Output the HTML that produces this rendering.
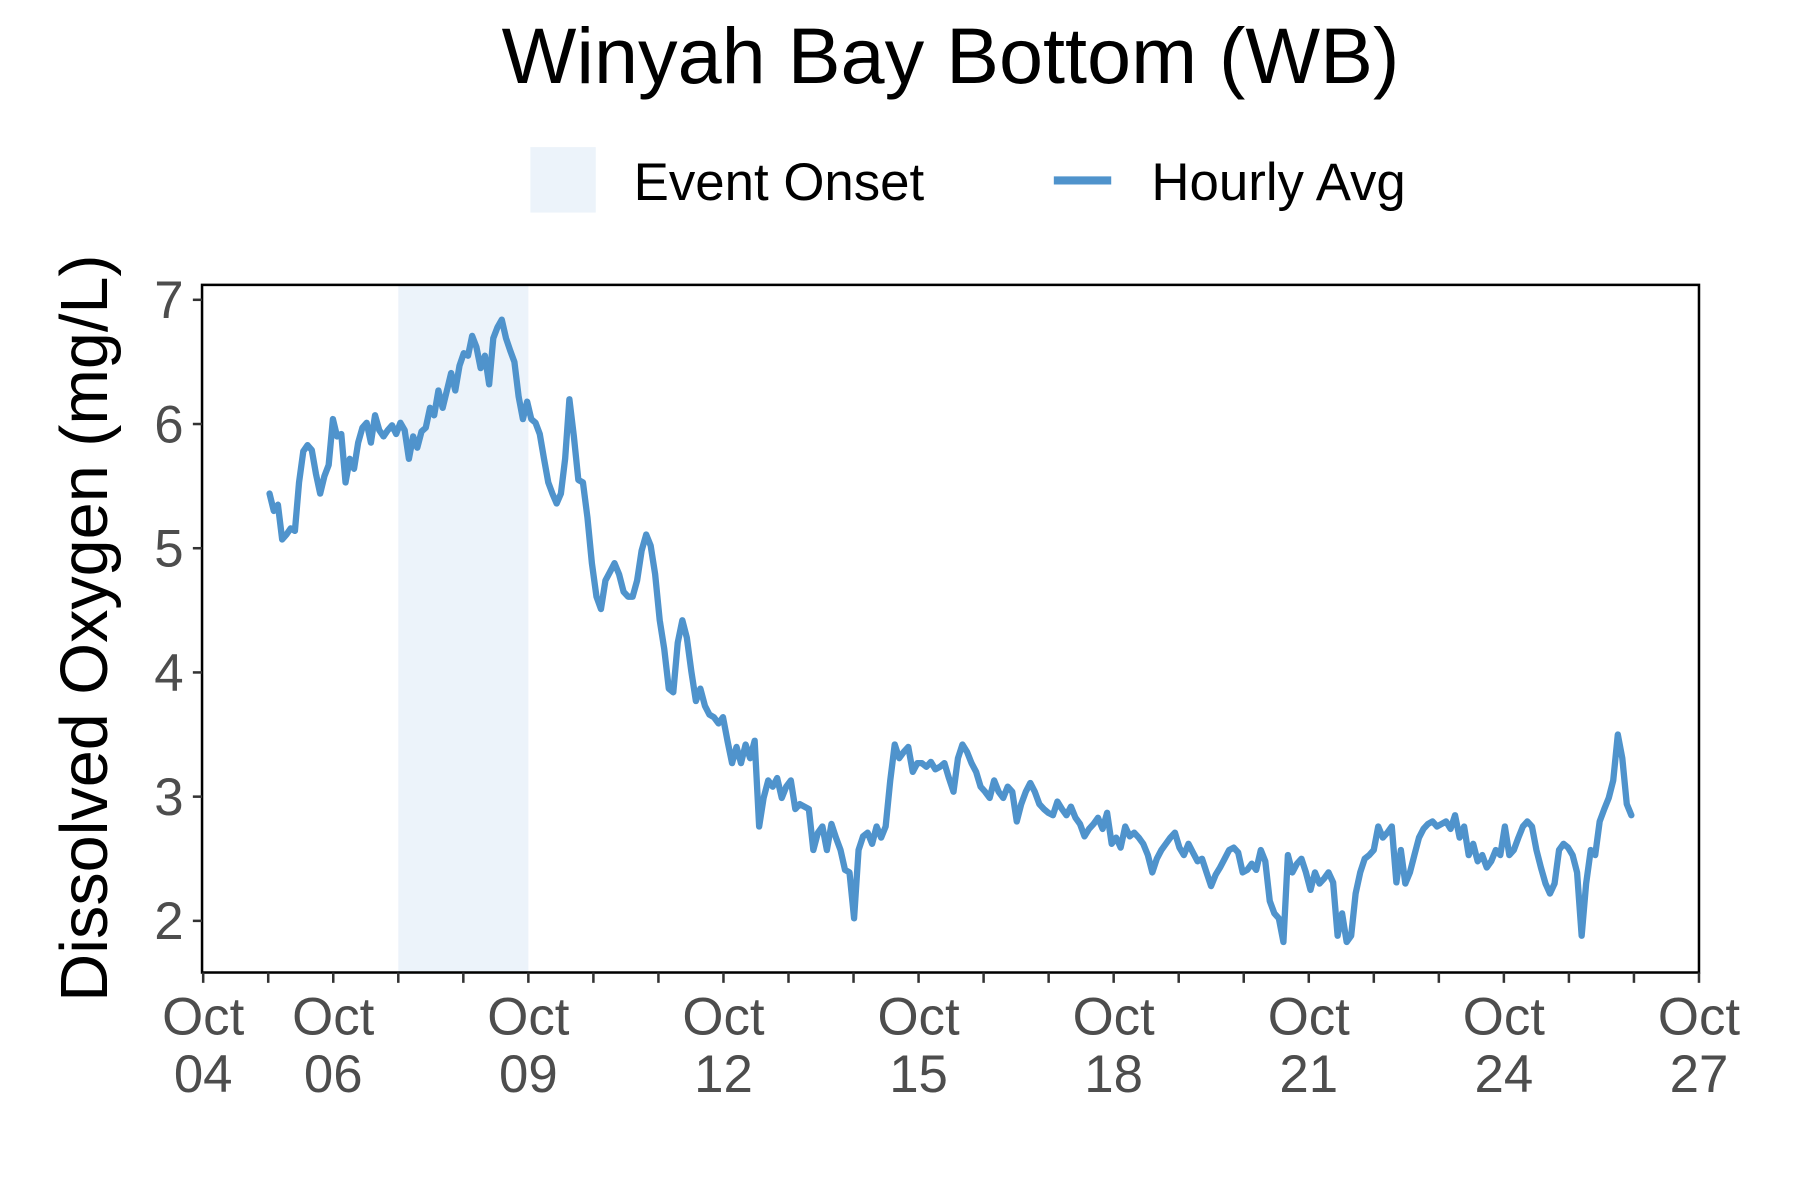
<!DOCTYPE html>
<html><head><meta charset="utf-8"><style>
html,body{margin:0;padding:0;background:#fff;}
svg{display:block;font-family:"Liberation Sans",sans-serif;}
</style></head><body>
<svg id="chart" width="1800" height="1200" viewBox="0 0 1568 1045" xmlns="http://www.w3.org/2000/svg">
<rect width="1568" height="1045" fill="#fff"/>
<text x="828" y="72" font-size="69" text-anchor="middle" fill="#000">Winyah Bay Bottom (WB)</text>
<g>
<rect x="462" y="128" width="57" height="57" fill="#ecf3fa"/>
<text x="552" y="174" font-size="46" fill="#000">Event Onset</text>
<line x1="918" y1="157" x2="968" y2="157" stroke="#4f93cc" stroke-width="7"/>
<text x="1003" y="174" font-size="46" fill="#000">Hourly Avg</text>
</g>
<text transform="translate(93,547) rotate(-90)" font-size="58" text-anchor="middle" fill="#000">Dissolved Oxygen (mg/L)</text>
<g id="plot"></g>
</svg>
<script>
const yTicks = [2, 3, 4, 5, 6, 7];
const xLabelDays = [0, 2, 5, 8, 11, 14, 17, 20, 23];
const xLabelTexts = ["04", "06", "09", "12", "15", "18", "21", "24", "27"];
const eventStartDay = 3;
const eventEndDay = 5;
const seriesStartDay = 1.02;
const seriesBreakDay = 5.63;
const seriesBreakIndex = 71;
const seriesEndDay = 21.96;
const doValues = [5.44,5.30,5.35,5.07,5.11,5.16,5.14,5.53,5.78,5.83,5.79,5.60,5.44,5.58,5.67,6.04,5.90,5.92,5.53,5.72,5.64,5.85,5.97,6.01,5.85,6.07,5.95,5.90,5.95,5.99,5.92,6.01,5.95,5.72,5.90,5.81,5.94,5.97,6.13,6.07,6.27,6.13,6.27,6.41,6.27,6.47,6.57,6.55,6.71,6.62,6.45,6.55,6.32,6.69,6.78,6.84,6.69,6.59,6.50,6.22,6.04,6.18,6.04,6.01,5.92,5.72,5.53,5.44,5.36,5.44,5.72,6.20,5.90,5.55,5.53,5.25,4.88,4.61,4.51,4.74,4.81,4.88,4.79,4.65,4.61,4.61,4.74,4.98,5.11,5.02,4.79,4.42,4.19,3.87,3.84,4.24,4.42,4.28,4.01,3.77,3.87,3.73,3.66,3.64,3.59,3.64,3.45,3.27,3.40,3.27,3.42,3.31,3.45,2.76,2.99,3.13,3.08,3.15,2.99,3.08,3.13,2.90,2.94,2.92,2.90,2.57,2.71,2.76,2.57,2.78,2.67,2.57,2.41,2.39,2.02,2.57,2.68,2.71,2.62,2.76,2.67,2.76,3.13,3.42,3.31,3.36,3.40,3.20,3.27,3.27,3.24,3.28,3.22,3.24,3.27,3.15,3.04,3.31,3.42,3.36,3.27,3.20,3.08,3.04,2.99,3.13,3.04,2.99,3.08,3.04,2.80,2.94,3.04,3.11,3.04,2.94,2.90,2.87,2.85,2.96,2.90,2.85,2.92,2.83,2.78,2.68,2.74,2.78,2.83,2.74,2.87,2.62,2.67,2.59,2.76,2.68,2.71,2.67,2.62,2.53,2.39,2.50,2.57,2.62,2.67,2.71,2.59,2.53,2.62,2.55,2.48,2.50,2.39,2.28,2.37,2.43,2.50,2.57,2.59,2.55,2.39,2.41,2.46,2.41,2.57,2.48,2.16,2.06,2.02,1.83,2.53,2.39,2.46,2.50,2.39,2.25,2.39,2.30,2.34,2.39,2.31,1.88,2.06,1.83,1.88,2.22,2.39,2.50,2.53,2.57,2.76,2.67,2.71,2.76,2.31,2.57,2.30,2.39,2.53,2.67,2.74,2.78,2.80,2.76,2.78,2.80,2.74,2.85,2.67,2.76,2.53,2.62,2.48,2.53,2.43,2.48,2.57,2.53,2.76,2.53,2.57,2.67,2.76,2.80,2.76,2.57,2.43,2.30,2.22,2.30,2.57,2.62,2.59,2.53,2.39,1.88,2.30,2.57,2.53,2.80,2.90,2.99,3.13,3.50,3.31,2.94,2.85];

const NS = "http://www.w3.org/2000/svg";
const P = {l:176, r:1480, t:248, b:847};
const xScale = d => 177 + (d / 23) * (1480 - 177);
const yScale = v => 261 + (7 - v) * ((802 - 261) / 5);
const plot = document.getElementById('plot');
function mk(tag, attrs) {
  const e = document.createElementNS(NS, tag);
  for (const k in attrs) e.setAttribute(k, attrs[k]);
  plot.appendChild(e);
  return e;
}
function dayAt(i) {
  if (i <= seriesBreakIndex) return seriesStartDay + i * (seriesBreakDay - seriesStartDay) / seriesBreakIndex;
  return seriesBreakDay + (i - seriesBreakIndex) * (seriesEndDay - seriesBreakDay) / (doValues.length - 1 - seriesBreakIndex);
}
const shade = mk('rect', {x: xScale(eventStartDay), y: P.t, width: xScale(eventEndDay) - xScale(eventStartDay), height: P.b - P.t, fill: '#ecf3fa'});


const pts = doValues.map((v, i) => xScale(dayAt(i)).toFixed(1) + ',' + yScale(v).toFixed(1)).join(' ');
const line = mk('polyline', {points: pts, fill: 'none', stroke: '#4f93cc', 'stroke-width': 5.5, 'stroke-linejoin': 'round', 'stroke-linecap': 'round'});


const border = mk('rect', {x: P.l, y: P.t, width: P.r - P.l, height: P.b - P.t, fill: 'none', stroke: '#000', 'stroke-width': 2.2});


yTicks.forEach(v => {
  const y = yScale(v);
  const t = mk('line', {x1: P.l - 8, x2: P.l, y1: y, y2: y, stroke: '#333', 'stroke-width': 2.2});
  
  
  const lb = mk('text', {x: P.l - 16, y: y + 16, 'font-size': 46, 'text-anchor': 'end', fill: '#4d4d4d'});
  lb.textContent = v;
  
  
});
for (let d = 0; d <= 23; d++) {
  const x = xScale(d);
  const t = mk('line', {x1: x, x2: x, y1: P.b, y2: P.b + 9, stroke: '#333', 'stroke-width': 2.2});
  
  
}
xLabelDays.forEach((d, i) => {
  const x = xScale(d);
  const lb = mk('text', {x: x, y: 901, 'font-size': 46, 'text-anchor': 'middle', fill: '#4d4d4d'});
  lb.textContent = 'Oct';
  
  
  const lb2 = mk('text', {x: x, y: 951, 'font-size': 46, 'text-anchor': 'middle', fill: '#4d4d4d'});
  lb2.textContent = xLabelTexts[i];
  
  
});
</script>
</body></html>
